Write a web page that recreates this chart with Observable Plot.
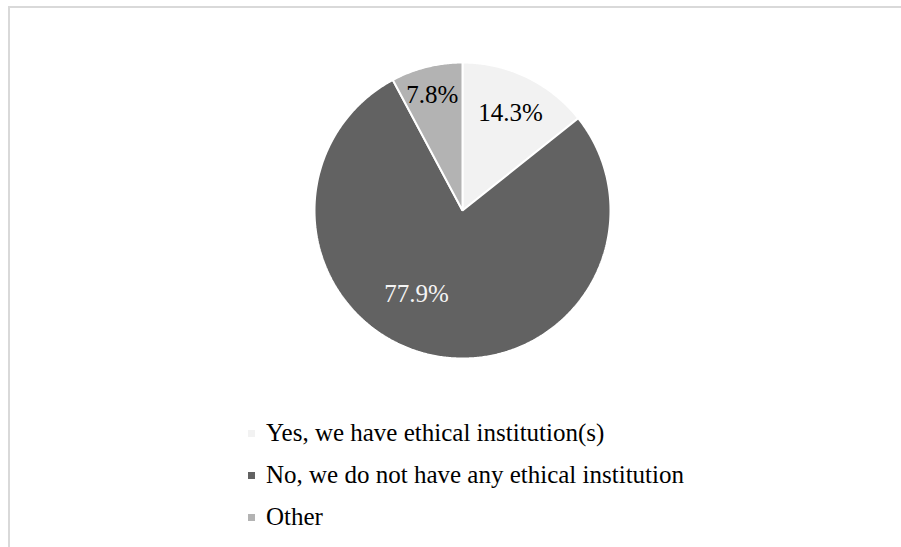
<!DOCTYPE html>
<html>
<head>
<meta charset="utf-8">
<script src="https://cdn.jsdelivr.net/npm/d3@7"></script>
<script src="https://cdn.jsdelivr.net/npm/@observablehq/plot@0.6"></script>
<style>
  html, body { margin: 0; padding: 0; background: #fff; }
  #wrap { position: relative; width: 901px; height: 547px; overflow: hidden; font-family: "Liberation Serif", "DejaVu Serif", serif; }
  #frame { position: absolute; left: 8px; top: 6px; width: 920px; height: 580px; border-left: 2px solid #d9d9d9; border-top: 2px solid #d9d9d9; }
  #chart { position: absolute; left: 0; top: 0; }
  #legend { position: absolute; left: 248px; top: 412px; }
  .row { display: flex; align-items: center; height: 42px; font-size: 25px; color: #000; white-space: nowrap; font-family: "Liberation Serif", "DejaVu Serif", serif; }
  .sw { width: 7px; height: 7px; margin-right: 11px; flex: none; }
</style>
</head>
<body>
<div id="wrap">
  <div id="frame"></div>
  <div id="chart"></div>
  <div id="legend"></div>
</div>
<script>
// Data
const categories = ["Yes, we have ethical institution(s)", "No, we do not have any ethical institution", "Other"];
const values = [14.3, 77.9, 7.8];
const labels = ["14.3%", "77.9%", "7.8%"];
const colors = ["#f2f2f2", "#626262", "#b3b3b3"];
const labelColors = ["#000000", "#f4f4f4", "#000000"];
const labelOffsets = [[1, 0], [-24, -22], [-4, -11]];

// Pie geometry (angles clockwise from 12 o'clock)
const pie = d3.pie().sort(null).value(d => d.value)(categories.map((c, i) => ({category: c, value: values[i], i})));
const outline = [];
pie.forEach(p => {
  const n = Math.max(2, Math.ceil((p.endAngle - p.startAngle) / (Math.PI / 360)));
  outline.push({category: p.data.category, x: 0, y: 0});
  for (let k = 0; k <= n; k++) {
    const a = p.startAngle + (p.endAngle - p.startAngle) * k / n;
    outline.push({category: p.data.category, x: Math.sin(a), y: Math.cos(a)});
  }
});
const labelR = 0.73;
const labelData = pie.map(p => {
  const a = (p.startAngle + p.endAngle) / 2;
  return {category: p.data.category, label: labels[p.data.i], x: labelR * Math.sin(a), y: labelR * Math.cos(a), i: p.data.i};
});

const chart = Plot.plot({
  width: 901,
  height: 370,
  marginLeft: 314,
  marginRight: 291,
  marginTop: 62,
  marginBottom: 12,
  x: {domain: [-1, 1], axis: null},
  y: {domain: [-1, 1], axis: null},
  color: {domain: categories, range: colors},
  style: {background: "transparent", overflow: "visible", fontFamily: "'Liberation Serif', 'DejaVu Serif', serif"},
  marks: [
    Plot.line(outline, {x: "x", y: "y", z: "category", fill: "category", stroke: "white", strokeWidth: 2, curve: "linear-closed", strokeLinejoin: "miter"}),
    ...labelData.map(d => Plot.text([d], {
      x: "x", y: "y", text: "label",
      fill: labelColors[d.i],
      dx: labelOffsets[d.i][0], dy: labelOffsets[d.i][1],
      fontSize: 25, fontFamily: "'Liberation Serif', 'DejaVu Serif', serif"
    }))
  ]
});
document.getElementById("chart").appendChild(chart);

// Legend
const legend = d3.select("#legend");
categories.forEach((c, i) => {
  const row = legend.append("div").attr("class", "row");
  row.append("div").attr("class", "sw").style("background", colors[i]);
  row.append("span").text(c);
});
</script>
</body>
</html>
